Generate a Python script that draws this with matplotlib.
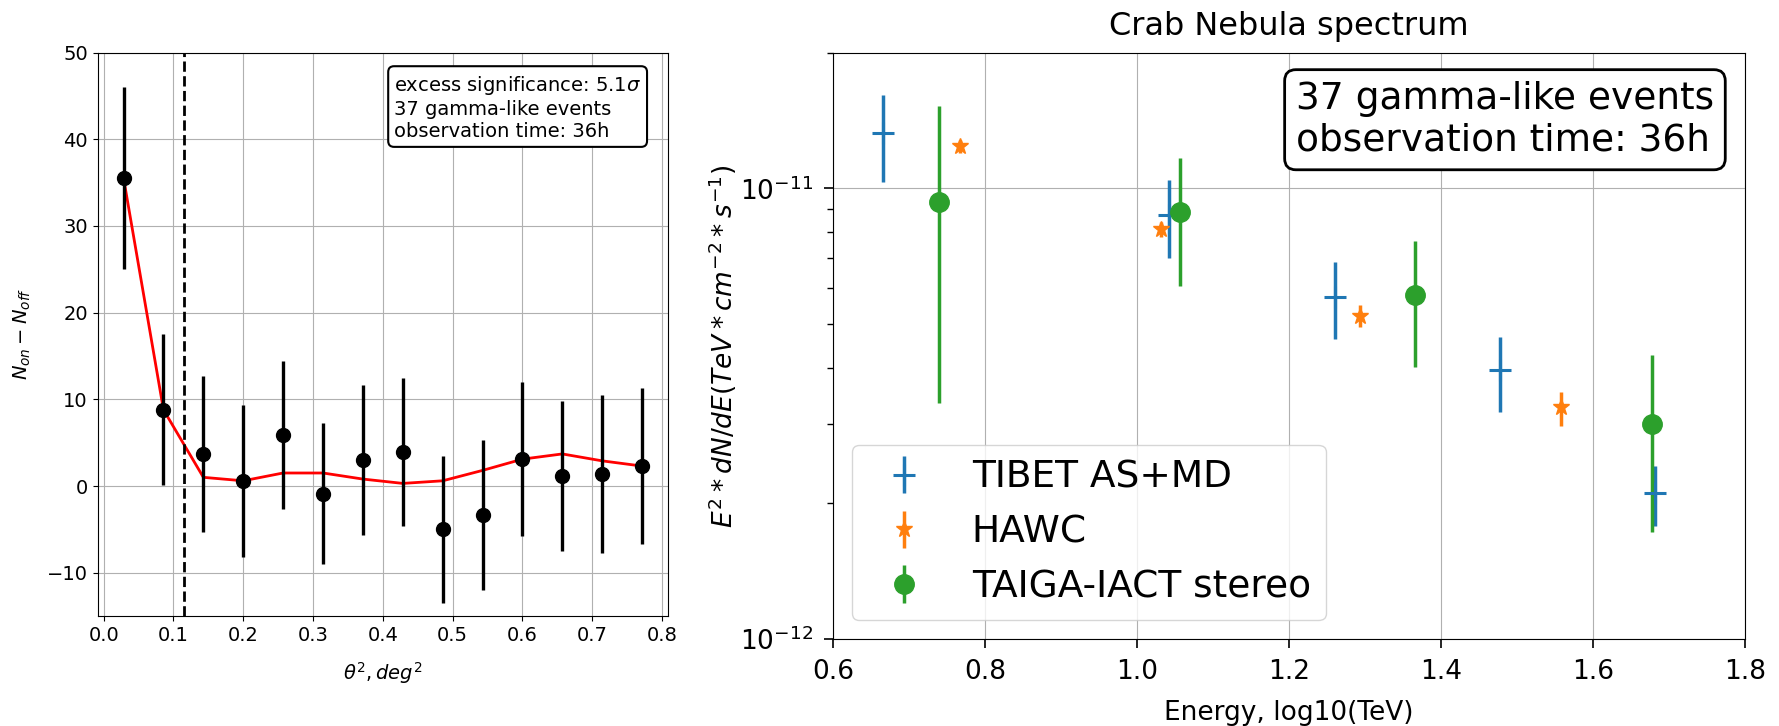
import numpy as np
import matplotlib

matplotlib.use("Agg")
import matplotlib.pyplot as plt
from matplotlib.ticker import NullFormatter

# theta^2 distribution: excess counts per bin and fitted background
theta2 = [0.0286, 0.0857, 0.1429, 0.2000, 0.2571, 0.3143, 0.3714,
          0.4286, 0.4857, 0.5429, 0.6000, 0.6571, 0.7143, 0.7714]
excess = [35.5, 8.8, 3.7, 0.6, 5.9, -0.9, 3.0, 3.9, -5.0, -3.4, 3.1, 1.1, 1.4, 2.3]
excess_err = [10.5, 8.7, 9.0, 8.8, 8.5, 8.15, 8.7, 8.55, 8.5, 8.65, 8.85, 8.65, 9.15, 9.0]
model = [35.5, 8.8, 1.0, 0.6, 1.5, 1.5, 0.8, 0.3, 0.6, 1.8, 3.1, 3.7, 2.9, 2.3]
theta2_cut = 0.115

# Crab SED points: log10(E/TeV), E^2 dN/dE and asymmetric errors (lo, hi)
tibet_x = [0.665, 1.042, 1.260, 1.478, 1.681]
tibet_y = [1.325e-11, 8.72e-12, 5.75e-12, 3.95e-12, 2.11e-12]
tibet_lo = [1.031e-11, 7.01e-12, 4.64e-12, 3.19e-12, 1.78e-12]
tibet_hi = [1.608e-11, 1.043e-11, 6.85e-12, 4.67e-12, 2.42e-12]

hawc_x = [0.767, 1.031, 1.293, 1.558]
hawc_y = [1.242e-11, 8.13e-12, 5.22e-12, 3.27e-12]
hawc_lo = [1.20e-11, 7.81e-12, 4.93e-12, 2.97e-12]
hawc_hi = [1.28e-11, 8.42e-12, 5.50e-12, 3.54e-12]

taiga_x = [0.740, 1.056, 1.366, 1.678]
taiga_y = [9.32e-12, 8.87e-12, 5.80e-12, 3.00e-12]
taiga_lo = [3.345e-12, 6.07e-12, 4.01e-12, 1.73e-12]
taiga_hi = [1.527e-11, 1.171e-11, 7.63e-12, 4.27e-12]


def yerr(y, lo, hi):
    y = np.asarray(y)
    return [y - np.asarray(lo), np.asarray(hi) - y]


fig = plt.figure(figsize=(17.79, 7.26), dpi=100)
ax1 = fig.add_axes([0.0549, 0.1515, 0.3206, 0.776])
ax2 = fig.add_axes([0.4683, 0.1198, 0.5126, 0.8075])

# --- left: theta^2 plot ---
ax1.errorbar(theta2, excess, yerr=excess_err, fmt="o", color="black",
             markersize=10, elinewidth=2.4, capsize=0, zorder=3)
ax1.plot(theta2, model, color="red", linewidth=2, zorder=2)
ax1.axvline(theta2_cut, color="black", linestyle="--", linewidth=2)
ax1.set_ylim(-15, 50)
ax1.grid(True)
ax1.tick_params(labelsize=14)
ax1.set_xlabel(r"$\theta^2, deg^2$", fontsize=14, labelpad=11)
ax1.set_ylabel(r"$N_{on}-N_{off}$", fontsize=14, labelpad=10)
ax1.text(0.953, 0.962,
         "excess significance: 5.1$\\sigma$\n37 gamma-like events\nobservation time: 36h",
         transform=ax1.transAxes, ha="right", va="top", multialignment="left",
         fontsize=14,
         bbox=dict(boxstyle="round,pad=0.3", fc="white", ec="black", lw=1.5))

# --- right: spectrum ---
ax2.errorbar(tibet_x, tibet_y, yerr=yerr(tibet_y, tibet_lo, tibet_hi), fmt="+",
             color="C0", markersize=16, markeredgewidth=2.2, elinewidth=2.5,
             label="TIBET AS+MD")
ax2.errorbar(hawc_x, hawc_y, yerr=yerr(hawc_y, hawc_lo, hawc_hi), fmt="*",
             color="C1", markersize=12, elinewidth=2.5, label="HAWC")
ax2.errorbar(taiga_x, taiga_y, yerr=yerr(taiga_y, taiga_lo, taiga_hi), fmt="o",
             color="C2", markersize=14, elinewidth=2.5, label="TAIGA-IACT stereo")
ax2.set_yscale("log")
ax2.set_xlim(0.6, 1.8)
ax2.set_ylim(1e-12, 2e-11)
ax2.yaxis.set_minor_formatter(NullFormatter())
ax2.grid(True)
ax2.tick_params(which="major", labelsize=19, length=6.5, width=1.2, pad=8)
ax2.tick_params(which="minor", length=4, width=1)
ax2.set_title("Crab Nebula spectrum", fontsize=23, pad=13)
ax2.set_xlabel("Energy, log10(TeV)", fontsize=19, labelpad=11)
ax2.set_ylabel(r"$E^2*dN/dE(TeV*cm^{-2}*s^{-1})$", fontsize=19, labelpad=1)
ax2.legend(loc="lower left", fontsize=27)
ax2.text(0.966, 0.952, "37 gamma-like events\nobservation time: 36h",
         transform=ax2.transAxes, ha="right", va="top", multialignment="left",
         fontsize=27,
         bbox=dict(boxstyle="round,pad=0.3", fc="white", ec="black", lw=2))

fig.savefig("out.png", dpi=100)
